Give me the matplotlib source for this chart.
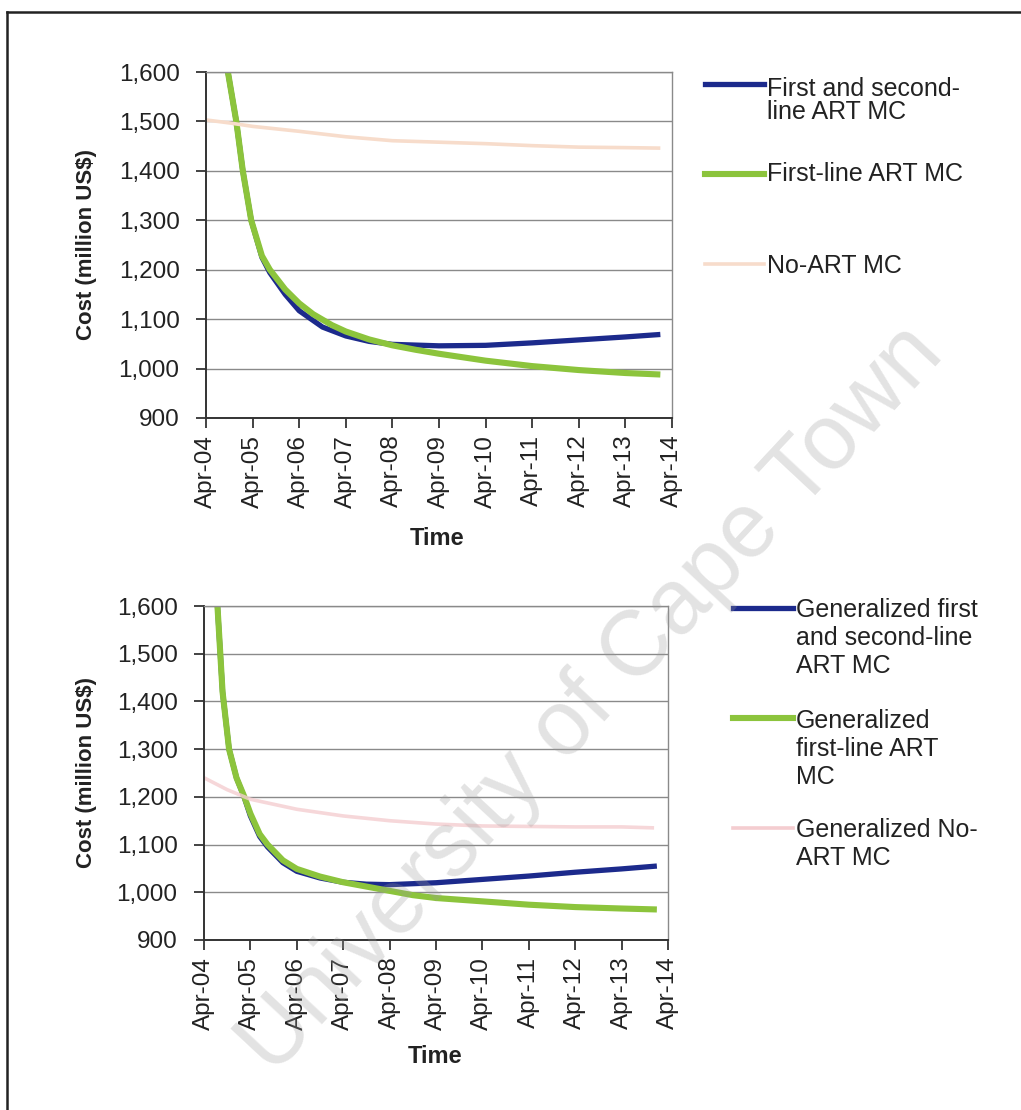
import matplotlib
matplotlib.use("Agg")
import matplotlib.pyplot as plt
from matplotlib.lines import Line2D

plt.rcParams['font.family'] = ['Liberation Sans', 'DejaVu Sans']

# years since Apr-04
tick_labels = ['Apr-04', 'Apr-05', 'Apr-06', 'Apr-07', 'Apr-08', 'Apr-09',
               'Apr-10', 'Apr-11', 'Apr-12', 'Apr-13', 'Apr-14']
y_ticks = [900, 1000, 1100, 1200, 1300, 1400, 1500, 1600]

# --- top panel: marginal cost by strategy (million US$)
t_first = [0.35, 0.47, 0.65, 0.79, 0.97, 1.2, 1.37, 1.7, 2.0, 2.3, 2.7, 3.0,
           3.5, 4.0, 4.5, 5.0, 6.0, 7.0, 8.0, 9.0, 9.75]
first_line = [1750, 1600, 1500, 1400, 1300, 1228, 1200, 1160, 1132, 1110, 1088,
              1075, 1059, 1047, 1038, 1030, 1016, 1005, 997, 991, 988]
t_both = [0.35, 0.47, 0.65, 0.79, 0.97, 1.2, 1.37, 1.7, 2.0, 2.5, 3.0,
          3.5, 4.0, 5.0, 6.0, 7.0, 8.0, 9.0, 9.75]
first_second = [1750, 1600, 1500, 1400, 1300, 1225, 1194, 1150, 1117, 1084,
                1066, 1055, 1049, 1046, 1047, 1052, 1058, 1064, 1069]
t_noart = [0.0, 0.5, 1.0, 2.0, 3.0, 4.0, 5.0, 6.0, 7.0, 8.0, 9.0, 9.75]
no_art = [1503, 1497, 1490, 1480, 1469, 1461, 1458, 1455, 1451, 1448, 1447, 1446]

# --- bottom panel: generalized marginal cost
g_t_first = [0.2, 0.29, 0.4, 0.54, 0.7, 0.87, 1.0, 1.2, 1.37, 1.7, 2.0, 2.5,
             3.0, 3.5, 4.0, 4.5, 5.0, 6.0, 7.0, 8.0, 9.0, 9.76]
g_first_line = [1800, 1600, 1420, 1300, 1240, 1200, 1165, 1122, 1100, 1067, 1049,
                1033, 1021, 1012, 1003, 994, 988, 981, 974, 969, 966, 964]
g_t_both = [0.2, 0.29, 0.4, 0.54, 0.7, 0.87, 1.0, 1.2, 1.37, 1.7, 2.0, 2.5,
            3.0, 3.5, 4.0, 5.0, 6.0, 7.0, 8.0, 9.0, 9.76]
g_first_second = [1800, 1600, 1420, 1300, 1240, 1198, 1160, 1117, 1095, 1062, 1044,
                  1030, 1021, 1017, 1016, 1020, 1027, 1034, 1042, 1049, 1055]
g_t_noart = [0.0, 0.5, 1.0, 2.0, 3.0, 4.0, 5.0, 6.0, 7.0, 8.0, 9.0, 9.7]
g_no_art = [1240, 1215, 1195, 1174, 1160, 1150, 1143, 1139, 1138, 1137, 1137, 1135]

BLUE = '#1c2a8c'
GREEN = '#8cc43c'
PEACH = '#f7dccb'
PINK = '#f4cdd0'

W, H = 1021, 1110
fig = plt.figure(figsize=(W / 100, H / 100), dpi=100)


def fx(px):
    return px / W


def fy(py):
    return 1 - py / H


def style_axes(ax):
    ax.set_xlim(0, 10)
    ax.set_ylim(900, 1600)
    ax.set_xticks(range(11))
    ax.set_xticklabels(tick_labels, rotation=90)
    ax.set_yticks(y_ticks)
    ax.set_yticklabels([f'{v:,}' for v in y_ticks])
    ax.grid(axis='y', color='#8a8a8a', linewidth=1.0)
    ax.set_axisbelow(True)
    ax.tick_params(axis='both', direction='out', length=7, width=1.2,
                   labelsize=17.5, colors='#222222')
    ax.tick_params(axis='y', pad=12)
    ax.tick_params(axis='x', pad=5)
    for s in ['left', 'bottom']:
        ax.spines[s].set_color('#333333')
        ax.spines[s].set_linewidth(1.4)
    for s in ['top', 'right']:
        ax.spines[s].set_color('#8a8a8a')
        ax.spines[s].set_linewidth(1.0)
    ax.set_ylabel('Cost (million US$)', fontsize=16, fontweight='bold', color='#222222')
    ax.set_xlabel('Time', fontsize=17, fontweight='bold', color='#222222')


ax1 = fig.add_axes([fx(206), fy(418), fx(672) - fx(206), fy(72) - fy(418)])
ax1.plot(t_both, first_second, color=BLUE, lw=3.8, solid_capstyle='butt')
ax1.plot(t_first, first_line, color=GREEN, lw=4.4, solid_capstyle='butt')
ax1.plot(t_noart, no_art, color=PEACH, lw=2.6, solid_capstyle='butt')
style_axes(ax1)
ax1.yaxis.set_label_coords((97 - 206) / 466, 0.5)
ax1.xaxis.set_label_coords((437 - 206) / 466, -(527 - 418) / 346)

ax2 = fig.add_axes([fx(204), fy(940), fx(668) - fx(204), fy(606) - fy(940)])
ax2.plot(g_t_both, g_first_second, color=BLUE, lw=3.8, solid_capstyle='butt')
ax2.plot(g_t_first, g_first_line, color=GREEN, lw=4.4, solid_capstyle='butt')
ax2.plot(g_t_noart, g_no_art, color=PINK, lw=2.6, solid_capstyle='butt', alpha=0.8)
style_axes(ax2)
ax2.yaxis.set_label_coords((97 - 204) / 464, 0.5)
ax2.xaxis.set_label_coords((435 - 204) / 464, -(1045 - 940) / 334)


def legend_entry(x0, x1, ymark, color, lw, tx, lines, ys):
    fig.add_artist(Line2D([fx(x0), fx(x1)], [fy(ymark), fy(ymark)],
                          color=color, lw=lw, transform=fig.transFigure))
    for s, yy in zip(lines, ys):
        fig.text(fx(tx), fy(yy), s, fontsize=18, color='#222222', va='center', ha='left')


legend_entry(705, 764, 84, BLUE, 3.8, 767, ['First and second-', 'line ART MC'], [89, 112])
legend_entry(705, 764, 174, GREEN, 4.4, 767, ['First-line ART MC'], [174])
legend_entry(705, 764, 264, PEACH, 2.6, 767, ['No-ART MC'], [266])

legend_entry(733, 793, 608, BLUE, 3.8, 796,
             ['Generalized first', 'and second-line', 'ART MC'], [610, 638, 666])
legend_entry(733, 793, 718, GREEN, 4.4, 796,
             ['Generalized', 'first-line ART', 'MC'], [721, 749, 777])
legend_entry(733, 793, 828, PINK, 2.6, 796,
             ['Generalized No-', 'ART MC'], [830, 858])

# page frame
fig.add_artist(Line2D([fx(7), fx(1021)], [fy(12), fy(12)], color='#222222', lw=1.8,
                      transform=fig.transFigure))
fig.add_artist(Line2D([fx(7), fx(7)], [fy(12), fy(1110)], color='#222222', lw=1.8,
                      transform=fig.transFigure))

# watermark
fig.text(fx(592), fy(700), 'University of Cape Town', fontsize=66, color='#9a9a9a',
         alpha=0.28, rotation=47, ha='center', va='center', rotation_mode='anchor')

fig.savefig('out.png', dpi=100, facecolor='white')
